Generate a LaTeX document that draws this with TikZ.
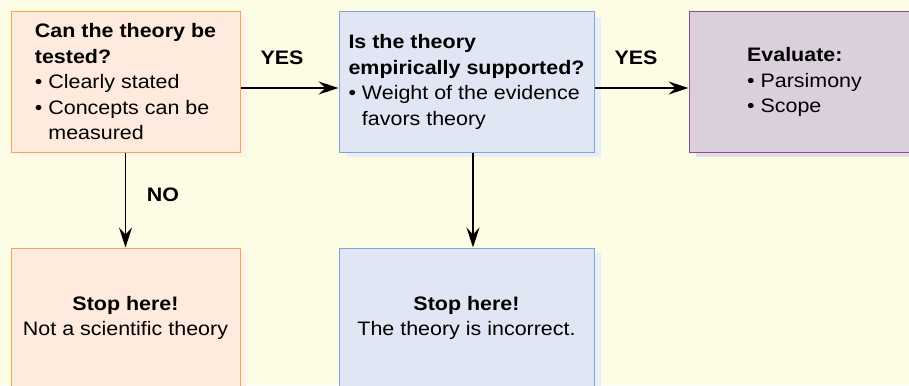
\documentclass[tikz,border=0pt]{standalone}
\usepackage{fontspec}
\setmainfont{Liberation Sans}[FakeStretch=1.1]
\usepackage{tikz}
\usetikzlibrary{arrows.meta, shadows}
\definecolor{bgyel}{RGB}{253,253,229}
\definecolor{orfill}{RGB}{254,235,221}
\definecolor{orline}{RGB}{247,161,90}
\definecolor{orshad}{RGB}{255,242,230}
\definecolor{blfill}{RGB}{224,230,243}
\definecolor{blline}{RGB}{125,166,214}
\definecolor{blshad}{RGB}{233,238,247}
\definecolor{pufill}{RGB}{219,207,221}
\definecolor{puline}{RGB}{135,80,140}
\definecolor{pushad}{RGB}{228,220,230}
\newcommand{\bul}{\textbullet\ }

\begin{document}
\begin{tikzpicture}[x=1pt, y=-1pt, font=\fontsize{19.5}{25.5}\selectfont,
	box/.style={draw, line width=1pt, inner sep=0pt, minimum width=#1, minimum height=140pt},
	orbox/.style={box=#1, draw=orline, fill=orfill, drop shadow={shadow xshift=7pt, shadow yshift=-5pt, fill=orshad, opacity=1}},
	blbox/.style={box=#1, draw=blline, fill=blfill, drop shadow={shadow xshift=7pt, shadow yshift=-5pt, fill=blshad, opacity=1}},
	pubox/.style={box=#1, draw=puline, fill=pufill, drop shadow={shadow xshift=7pt, shadow yshift=-5pt, fill=pushad, opacity=1}}]
			
			\fill[bgyel] (0,0) rectangle (909,385);
			\useasboundingbox (0,0) rectangle (909,385);
			
			\node[orbox=229pt, align=left] (test) at (125.5,82) {\textbf{Can the theory be}\\\textbf{tested?}\\\bul Clearly stated\\\bul Concepts can be\\\hphantom{\bul}measured};
			\node[blbox=255pt, align=left] (supp) at (466.5,82) {\textbf{Is the theory}\\\textbf{empirically supported?}\\\bul Weight of the evidence\\\hphantom{\bul}favors theory};
			\node[pubox=231pt, align=left] (eval) at (804.5,82) {\textbf{Evaluate:}\\\bul Parsimony\\\bul Scope};
			\node[orbox=229pt, align=center] (nosci) at (125.5,318) {\textbf{Stop here!}\\Not a scientific theory};
			\node[blbox=255pt, align=center] (wrong) at (466.5,318) {\textbf{Stop here!}\\The theory is incorrect.};
			
			\node[font=\fontsize{19.5}{22}\selectfont\bfseries] (yes1) at (282,58) {YES};
			\node[font=\fontsize{19.5}{22}\selectfont\bfseries] (yes2) at (636,58) {YES};
			\node[font=\fontsize{19.5}{22}\selectfont\bfseries] (no) at (163,195) {NO};
			
			\draw[>={Stealth[length=20pt,width=13pt,inset=7pt]}, ->, line width=1.8pt] ([yshift=-6pt]test.east) -- ([yshift=-6pt]test.east -| supp.west);
			\draw[>={Stealth[length=20pt,width=13pt,inset=7pt]}, ->, line width=1.8pt] ([yshift=-6pt]supp.east) -- ([yshift=-6pt]supp.east -| eval.west);
			\draw[>={Stealth[length=20pt,width=13pt,inset=7pt]}, ->, line width=1.8pt] (test.south) -- (nosci.north);
			\draw[>={Stealth[length=20pt,width=13pt,inset=7pt]}, ->, line width=1.8pt] ([xshift=6.5pt]supp.south) -- ([xshift=6.5pt]supp.south |- wrong.north);
		\end{tikzpicture}
\end{document}
